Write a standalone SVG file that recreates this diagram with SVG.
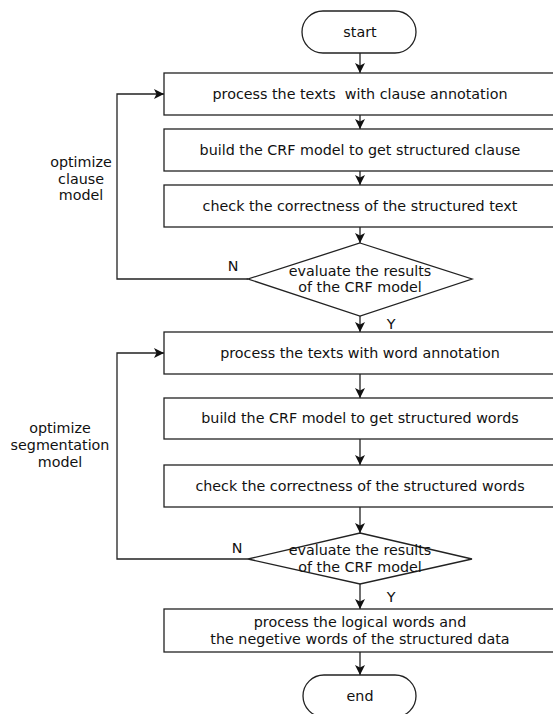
<svg xmlns="http://www.w3.org/2000/svg" width="553" height="714" viewBox="0 0 553 714">
<defs>
<marker id="ah" viewBox="0 0 10 10" refX="10" refY="5" markerWidth="10" markerHeight="10" markerUnits="userSpaceOnUse" orient="auto">
<path d="M0,0 L10,5 L0,10 L2.5,5 Z" fill="#111"/>
</marker>
<style>
.n{fill:#fff;stroke:#222;stroke-width:1.3}
.t{font-family:"DejaVu Sans",Verdana,sans-serif;font-size:14.3px;fill:#111;text-anchor:middle}
.c{fill:none;stroke:#222;stroke-width:1.3;marker-end:url(#ah)}
</style>
</defs>
<rect width="553" height="714" fill="#fff"/>
<g id="connectors">
<path class="c" d="M360,53 V73"/>
<path class="c" d="M360,115 V129"/>
<path class="c" d="M360,171 V185"/>
<path class="c" d="M360,227 V243"/>
<path class="c" d="M360,316 V332"/>
<path class="c" d="M360,374 V398"/>
<path class="c" d="M360,439 V465"/>
<path class="c" d="M360,507 V533"/>
<path class="c" d="M360,584 V609"/>
<path class="c" d="M360,652 V675"/>
<path class="c" d="M248,279 H117 V94 H164"/>
<path class="c" d="M248,559 H117 V353 H164"/>
<text class="t" x="233" y="271">N</text>
<text class="t" x="391" y="329">Y</text>
<text class="t" x="237" y="553">N</text>
<text class="t" x="391" y="602">Y</text>
</g>
<g id="start"><rect class="n" x="302" y="11" width="114" height="42" rx="21"/><text class="t" x="360" y="37">start</text></g>
<g id="box1"><rect class="n" x="164" y="73" width="392" height="42"/><text class="t" x="360" y="99" xml:space="preserve">process the texts  with clause annotation</text></g>
<g id="box2"><rect class="n" x="164" y="129" width="392" height="42"/><text class="t" x="360" y="155">build the CRF model to get structured clause</text></g>
<g id="box3"><rect class="n" x="164" y="185" width="392" height="42"/><text class="t" x="360" y="211">check the correctness of the structured text</text></g>
<g id="decision1"><polygon class="n" points="360,243 472,279 360,316 248,279"/><text class="t" x="360" y="276">evaluate the results</text><text class="t" x="360" y="292">of the CRF model</text></g>
<g id="box4"><rect class="n" x="164" y="332" width="392" height="42"/><text class="t" x="360" y="358">process the texts with word annotation</text></g>
<g id="box5"><rect class="n" x="164" y="398" width="392" height="41"/><text class="t" x="360" y="423">build the CRF model to get structured words</text></g>
<g id="box6"><rect class="n" x="164" y="465" width="392" height="42"/><text class="t" x="360" y="491">check the correctness of the structured words</text></g>
<g id="decision2"><polygon class="n" points="360,533 472,559 360,584 248,559"/><text class="t" x="360" y="555">evaluate the results</text><text class="t" x="360" y="572">of the CRF model</text></g>
<g id="box7"><rect class="n" x="164" y="609" width="392" height="43"/><text class="t" x="360" y="627">process the logical words and</text><text class="t" x="360" y="644">the negetive words of the structured data</text></g>
<g id="end"><rect class="n" x="303" y="675" width="113" height="42" rx="21"/><text class="t" x="360" y="701">end</text></g>
<g id="label1"><text class="t" x="81" y="167">optimize</text><text class="t" x="81" y="184">clause</text><text class="t" x="81" y="200">model</text></g>
<g id="label2"><text class="t" x="60" y="433">optimize</text><text class="t" x="60" y="450">segmentation</text><text class="t" x="60" y="467">model</text></g>
</svg>
